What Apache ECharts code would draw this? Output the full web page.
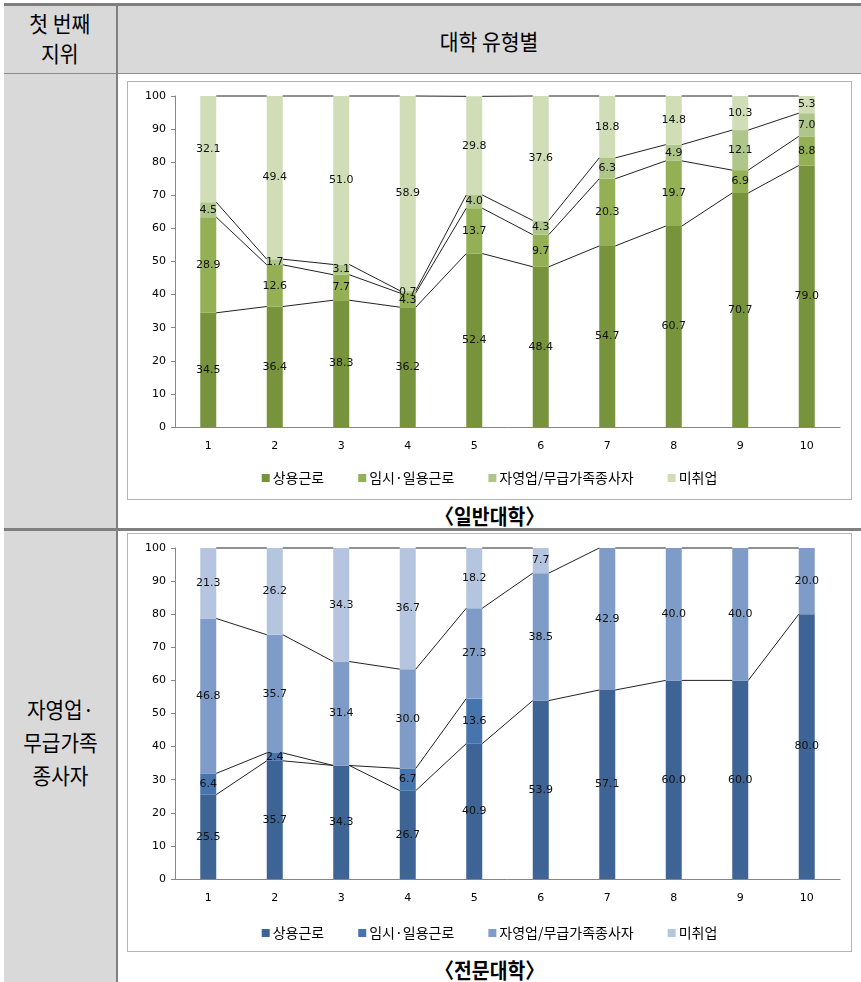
<!DOCTYPE html>
<html><head><meta charset="utf-8">
<script src="https://cdn.jsdelivr.net/npm/echarts@6/dist/echarts.min.js"></script>
<style>
body{margin:0;width:861px;height:982px;position:relative;background:#fff;overflow:hidden;font-family:"Noto Sans CJK KR","Noto Sans",sans-serif;}
.abs{position:absolute;}
.txt{position:absolute;text-align:center;color:#000;white-space:nowrap;}
.box{position:absolute;left:127px;width:725px;height:419px;border:1px solid #b4b4b4;box-sizing:border-box;background:#fff;}
.cap{position:absolute;left:118px;width:743px;text-align:center;font-weight:bold;font-size:21px;line-height:24px;color:#000;}
</style></head><body>
<!-- table frame -->
<div class="abs" style="left:4px;top:3px;width:857px;height:3px;background:#7f7f7f"></div>
<div class="abs" style="left:4px;top:6px;width:857px;height:67px;background:#d9d9d9"></div>
<div class="abs" style="left:4px;top:73px;width:857px;height:1px;background:#8c8c8c"></div>
<div class="abs" style="left:4px;top:74px;width:112px;height:454px;background:#d9d9d9"></div>
<div class="abs" style="left:4px;top:528px;width:857px;height:3px;background:#7f7f7f"></div>
<div class="abs" style="left:4px;top:531px;width:112px;height:451px;background:#d9d9d9"></div>
<div class="abs" style="left:116px;top:6px;width:2px;height:976px;background:#7f7f7f"></div>

<div class="txt" style="left:4px;width:112px;top:7px;font-size:22px;line-height:30px;"><span style="display:inline-block;transform:scaleX(0.93)">첫 번째<br>지위</span></div>
<div class="txt" style="left:118px;width:743px;top:25px;font-size:22px;line-height:30px;"><span style="display:inline-block;transform:scaleX(0.93)">대학 유형별</span></div>
<div class="txt" style="left:4px;width:112px;top:692px;font-size:22px;line-height:33px;"><span style="display:inline-block;transform:scaleX(0.92)">자영업·<br>무급가족<br>종사자</span></div>

<div class="box" id="c1" style="top:81px"></div>
<div class="cap" style="top:503px"><span style="display:inline-block;transform:scaleX(0.92)">〈일반대학〉</span></div>
<div class="box" id="c2" style="top:533px"></div>
<div class="cap" style="top:957px"><span style="display:inline-block;transform:scaleX(0.92)">〈전문대학〉</span></div>

<script>
// ---- data ----
const categories = ['1','2','3','4','5','6','7','8','9','10'];
const seriesNames = ['상용근로','임시·일용근로','자영업/무급가족종사자','미취업'];

// 일반대학
const general_regular   = [34.5, 36.4, 38.3, 36.2, 52.4, 48.4, 54.7, 60.7, 70.7, 79.0];
const general_temporary = [28.9, 12.6, 7.7, 4.3, 13.7, 9.7, 20.3, 19.7, 6.9, 8.8];
const general_selfemp   = [4.5, 1.7, 3.1, 0.7, 4.0, 4.3, 6.3, 4.9, 12.1, 7.0];
const general_unemp     = [32.1, 49.4, 51.0, 58.9, 29.8, 37.6, 18.8, 14.8, 10.3, 5.3];

// 전문대학 (null = blank cell)
const college_regular   = [25.5, 35.7, 34.3, 26.7, 40.9, 53.9, 57.1, 60.0, 60.0, 80.0];
const college_temporary = [6.4, 2.4, 0, 6.7, 13.6, null, null, null, null, null];
const college_selfemp   = [46.8, 35.7, 31.4, 30.0, 27.3, 38.5, 42.9, 40.0, 40.0, 20.0];
const college_unemp     = [21.3, 26.2, 34.3, 36.7, 18.2, 7.7, null, null, null, null];

const yTicks = [0,10,20,30,40,50,60,70,80,90,100];

const greenColors = ['#77933c','#93b054','#afc68b','#d0ddb7'];
const blueColors  = ['#3d6494','#4675ad','#7f9cc9','#b5c4df'];

const BAR_W = 16;

function buildOption(stacks, colors, legendTop) {
  const n = categories.length;
  // cumulative tops for Excel-style series lines (skip blank points)
  let run = new Array(n).fill(0);
  const lineData = [];
  stacks.forEach(arr => {
    run = run.map((v, i) => v + (arr[i] == null ? 0 : arr[i]));
    const c = run.map(v => Math.min(v, 100));
    for (let i = 0; i < n - 1; i++) {
      if (arr[i] != null && arr[i + 1] != null) lineData.push([i, c[i], c[i + 1]]);
    }
  });
  const bars = stacks.map((arr, k) => ({
    name: seriesNames[k],
    type: 'bar',
    stack: 'total',
    barWidth: BAR_W,
    data: arr.map(v => (v == null ? 0 : v)),
    itemStyle: { color: colors[k] },
    label: {
      show: true, position: 'inside',
      formatter: p => (p.value ? p.value.toFixed(1) : ''),
      color: '#111', fontSize: 11, fontFamily: 'DejaVu Sans'
    },
    emphasis: { disabled: true },
    animation: false
  }));
  bars.push({
    type: 'custom',
    name: 'lines',
    data: lineData,
    encode: { x: 0, y: [1, 2] },
    silent: true,
    z: 5,
    animation: false,
    renderItem: (params, api) => {
      const i = api.value(0);
      const p0 = api.coord([i, api.value(1)]);
      const p1 = api.coord([i + 1, api.value(2)]);
      return {
        type: 'line',
        shape: { x1: p0[0] + BAR_W / 2, y1: p0[1], x2: p1[0] - BAR_W / 2, y2: p1[1] },
        style: { stroke: '#222', lineWidth: 1 }
      };
    }
  });
  return {
    animation: false,
    backgroundColor: '#fff',
    textStyle: { fontFamily: 'DejaVu Sans' },
    grid: { left: 47, right: 11, top: 14, bottom: 72 },
    legend: {
      data: seriesNames.map((nm, k) => ({ name: nm, itemStyle: { color: colors[k] } })),
      left: 'center', top: legendTop,
      icon: 'rect', itemWidth: 8, itemHeight: 8, itemGap: 34,
      textStyle: { fontSize: 14, fontFamily: 'Noto Sans CJK KR', color: '#000', padding: [0, 0, 0, -2] }
    },
    xAxis: {
      type: 'category', data: categories,
      axisLine: { lineStyle: { color: '#868686', width: 1 } },
      axisTick: { show: false },
      axisLabel: { color: '#000', fontSize: 11, margin: 14, fontFamily: 'DejaVu Sans' }
    },
    yAxis: {
      type: 'value', min: yTicks[0], max: yTicks[yTicks.length - 1], interval: yTicks[1] - yTicks[0],
      axisLine: { show: true, lineStyle: { color: '#868686' } },
      axisTick: { show: true, length: 4, lineStyle: { color: '#868686' } },
      axisLabel: { color: '#000', fontSize: 11, margin: 9, fontFamily: 'DejaVu Sans' },
      splitLine: { show: false }
    },
    series: bars
  };
}

const chart1 = echarts.init(document.getElementById('c1'), null, { renderer: 'canvas' });
chart1.setOption(buildOption([general_regular, general_temporary, general_selfemp, general_unemp], greenColors, 384));
const chart2 = echarts.init(document.getElementById('c2'), null, { renderer: 'canvas' });
chart2.setOption(buildOption([college_regular, college_temporary, college_selfemp, college_unemp], blueColors, 387));
</script>
</body></html>
